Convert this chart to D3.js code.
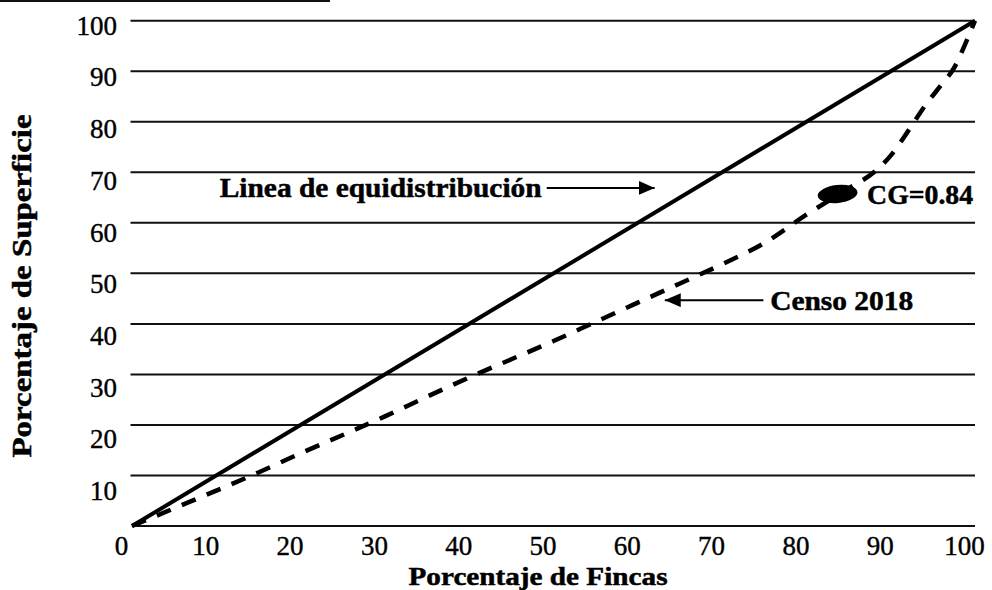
<!DOCTYPE html>
<html>
<head>
<meta charset="utf-8">
<script src="https://cdn.jsdelivr.net/npm/d3@7"></script>
<style>
  body { margin: 0; background: #fff; }
  text { font-family: "Liberation Serif", "Times New Roman", serif; fill: #000; }
</style>
</head>
<body>
<svg id="chart" width="992" height="590"></svg>
<script>
// curva de Lorenz, censo 2018
const fincas = [0, 5, 10, 15, 20, 25, 30, 35, 40, 45, 50, 55, 60, 65, 70, 75, 80, 85, 88, 90, 92, 94, 96, 97.5, 99, 100]
const superficie = [0, 3.5, 7, 10.6, 14.4, 18, 21.7, 25.6, 29.4, 33, 36.6, 40.4, 44.2, 48, 51.8, 56, 61.6, 66.8, 70, 73.3, 78, 83, 87.3, 90.6, 96, 100]
const equidistribucion = [0, 100]
const xTicks = [0, 10, 20, 30, 40, 50, 60, 70, 80, 90, 100]
const yTicks = [10, 20, 30, 40, 50, 60, 70, 80, 90, 100]
const gridValues = [0, 10, 20, 30, 40, 50, 60, 70, 80, 90, 100]
const coeficienteGini = 0.84

const svg = d3.select("#chart")
const width = 992, height = 590
const plotLeft = 132, plotRight = 975, plotTop = 20.7, plotBottom = 526

svg.append("rect").attr("width", width).attr("height", height).attr("fill", "#fff")

const x = d3.scaleLinear().domain([0, 100]).range([plotLeft, plotRight])
const y = d3.scaleLinear().domain([0, 100]).range([plotBottom, plotTop])
// the scanned labels sit a little below their grid lines, more so further down
const yLabel = d3.scaleLinear().domain([10, 100]).range([491, 25.5])

// scan frame remnant at the top
svg.append("line")
  .attr("x1", 0).attr("x2", 330).attr("y1", 1).attr("y2", 1)
  .attr("stroke", "#111").attr("stroke-width", 2)

// grid
svg.append("g")
  .selectAll("line")
  .data(gridValues)
  .join("line")
  .attr("x1", d => d == 0 ? x(0) : x(0) - 1.5)
  .attr("x2", x(100))
  .attr("y1", d => y(d)).attr("y2", d => y(d))
  .attr("stroke", "#111")
  .attr("stroke-width", 2)

const styleTicks = (sel) => sel
  .style("font-size", "27px")
  .style("font-family", "'Liberation Serif', 'Times New Roman', serif")
  .attr("fill", "#000")
  .attr("stroke", "#000").attr("stroke-width", 0.4)

const xAxis = svg.append("g")
  .attr("transform", `translate(0, ${plotBottom})`)
  .call(d3.axisBottom(x).tickValues(xTicks).tickSize(0).tickPadding(10).tickFormat(d3.format("d")))
xAxis.select(".domain").remove()
xAxis.selectAll("text").attr("dx", -11).call(styleTicks)

const yAxis = svg.append("g")
  .attr("transform", `translate(${plotLeft}, 0)`)
  .call(d3.axisLeft(yLabel).tickValues(yTicks).tickSize(0).tickPadding(15).tickFormat(d3.format("d")))
yAxis.select(".domain").remove()
yAxis.selectAll("text").call(styleTicks)

const boldText = (sel, size) => sel
  .style("font-size", `${size}px`).style("font-weight", "bold")
  .attr("stroke", "#000").attr("stroke-width", 0.5)

// axis titles
svg.append("text")
  .attr("x", 538).attr("y", 585)
  .attr("text-anchor", "middle")
  .attr("textLength", 259).attr("lengthAdjust", "spacingAndGlyphs")
  .call(boldText, 26)
  .text("Porcentaje de Fincas")

svg.append("text")
  .attr("transform", `translate(31, 286) rotate(-90)`)
  .attr("text-anchor", "middle")
  .attr("textLength", 343).attr("lengthAdjust", "spacingAndGlyphs")
  .call(boldText, 27)
  .text("Porcentaje de Superficie")

// lines
const line = d3.line().x(d => x(d[0])).y(d => y(d[1]))

svg.append("path")
  .datum(equidistribucion.map(v => [v, v]))
  .attr("d", line)
  .attr("fill", "none")
  .attr("stroke", "#000")
  .attr("stroke-width", 4)

svg.append("path")
  .datum(fincas.map((f, i) => [f, superficie[i]]))
  .attr("d", line.curve(d3.curveMonotoneX))
  .attr("fill", "none")
  .attr("stroke", "#000")
  .attr("stroke-width", 4.5)
  .attr("stroke-dasharray", "15,12")

// annotations
svg.append("defs").append("marker")
  .attr("id", "head")
  .attr("viewBox", "0 0 16 14")
  .attr("refX", 16).attr("refY", 7)
  .attr("markerWidth", 16).attr("markerHeight", 14)
  .attr("markerUnits", "userSpaceOnUse")
  .attr("orient", "auto")
  .append("path")
  .attr("d", "M0,0 L16,7 L0,14 Z")
  .attr("fill", "#000")

const arrow = (x1, y1, x2, y2) => svg.append("line")
  .attr("x1", x(x1)).attr("y1", y(y1))
  .attr("x2", x(x2)).attr("y2", y(y2))
  .attr("stroke", "#000").attr("stroke-width", 2)
  .attr("marker-end", "url(#head)")

svg.append("text")
  .attr("x", x(10.4)).attr("y", y(65.1))
  .attr("textLength", 322).attr("lengthAdjust", "spacingAndGlyphs")
  .call(boldText, 28)
  .text("Linea de equidistribución")
arrow(49.2, 66.9, 62.0, 66.9)

svg.append("text")
  .attr("x", x(75.7)).attr("y", y(42.7))
  .attr("textLength", 143).attr("lengthAdjust", "spacingAndGlyphs")
  .call(boldText, 28)
  .text("Censo 2018")
arrow(74.9, 44.7, 63.2, 44.7)

svg.append("ellipse")
  .attr("cx", x(83.7)).attr("cy", y(65.7))
  .attr("rx", 20).attr("ry", 9)
  .attr("transform", `rotate(-6, ${x(83.7)}, ${y(65.7)})`)
  .attr("fill", "#000")
svg.append("path")
  .attr("d", `M${x(83.7) - 12},${y(65.7) + 5} l-4,8 l9,-5 Z`)
  .attr("fill", "#000")

svg.append("text")
  .attr("x", x(87.2)).attr("y", y(63.8))
  .attr("textLength", 106).attr("lengthAdjust", "spacingAndGlyphs")
  .call(boldText, 28)
  .text(`CG=${coeficienteGini}`)
</script>
</body>
</html>
